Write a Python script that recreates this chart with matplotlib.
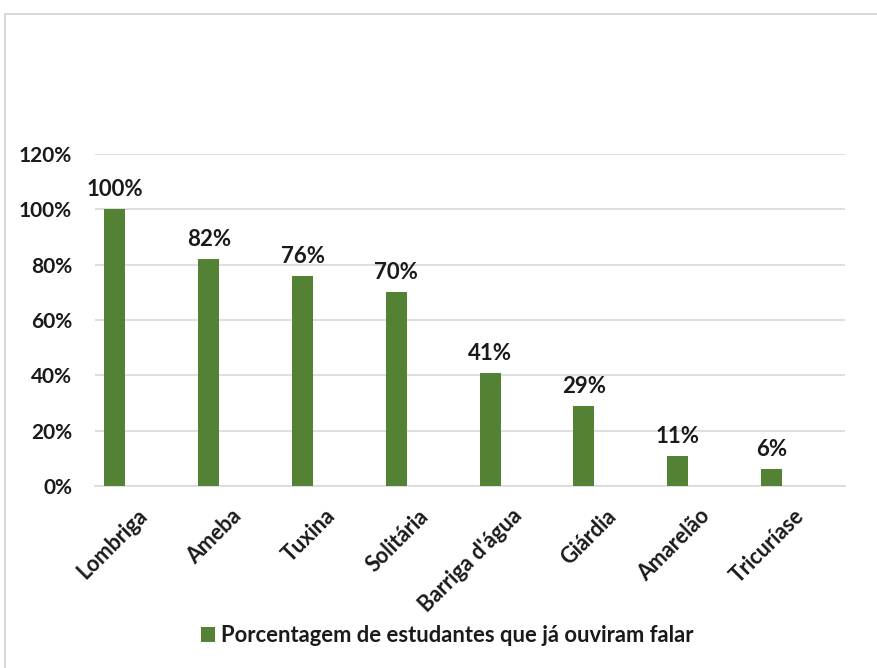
import matplotlib
matplotlib.use("Agg")
import matplotlib.pyplot as plt
import matplotlib.transforms as mtransforms
from matplotlib.patches import Rectangle
from matplotlib.ticker import FuncFormatter, MultipleLocator

categories = ["Lombriga", "Ameba", "Tuxina", "Solitária", "Barriga d'água",
              "Giárdia", "Amarelão", "Tricuríase"]
values = [100, 82, 76, 70, 41, 29, 11, 6]
series_name = "Porcentagem de estudantes que já ouviram falar"

plt.rcParams["font.family"] = ["Lato", "DejaVu Sans"]
plt.rcParams["font.weight"] = "bold"

green = "#548235"
text_color = "#1a1a1a"
fig = plt.figure(figsize=(8.77, 6.68), dpi=100)
ax = fig.add_axes([95 / 877, 1 - 486 / 668, 750 / 877, 332 / 668])

# outer chart-area frame
fig.patches.append(Rectangle((5 / 877, -0.01), 1.0, 1 - 14 / 668 + 0.01,
                             transform=fig.transFigure, fill=False,
                             edgecolor="#d9d9d9", linewidth=1.5))

x = list(range(len(categories)))
bars = ax.bar(x, values, width=0.224, color=green, label=series_name, zorder=3)

for xi, v in zip(x, values):
    ax.annotate(f"{v}%", (xi, v), xytext=(0, 6.5), textcoords="offset points",
                ha="center", va="bottom", fontsize=16, fontweight="bold",
                color=text_color)

ax.set_xlim(-0.213, len(categories) - 1 + 0.785)
ax.set_ylim(0, 120)
ax.yaxis.set_major_locator(MultipleLocator(20))
ax.yaxis.set_major_formatter(FuncFormatter(lambda v, p: f"{int(v)}%"))
ax.grid(axis="y", color="#d9d9d9", linewidth=1.2, zorder=0)
for s in ["top", "right", "left"]:
    ax.spines[s].set_visible(False)
ax.spines["bottom"].set_color("#d9d9d9")
ax.spines["bottom"].set_linewidth(1.2)
ax.tick_params(axis="both", length=0, colors=text_color)
ax.tick_params(axis="y", labelsize=15, pad=16.5)

ax.set_xticks(x)
ax.set_xticklabels(categories, rotation=45, ha="right", va="center",
                   rotation_mode="anchor", fontsize=15.5, fontweight="bold")
offset = mtransforms.ScaledTranslation(29 / 100, -22 / 100, fig.dpi_scale_trans)
for lbl in ax.get_xticklabels():
    lbl.set_transform(lbl.get_transform() + offset)
for lbl in ax.get_yticklabels():
    lbl.set_fontweight("bold")

leg = fig.legend(handles=[bars], labels=[series_name], loc="center",
                 bbox_to_anchor=(447 / 877, 1 - 636 / 668), frameon=False,
                 handlelength=0.65, handleheight=0.65, handletextpad=0.25,
                 prop={"size": 15.8, "weight": "bold"})
for t in leg.get_texts():
    t.set_color(text_color)

fig.savefig("out.png", dpi=100, facecolor="white")
